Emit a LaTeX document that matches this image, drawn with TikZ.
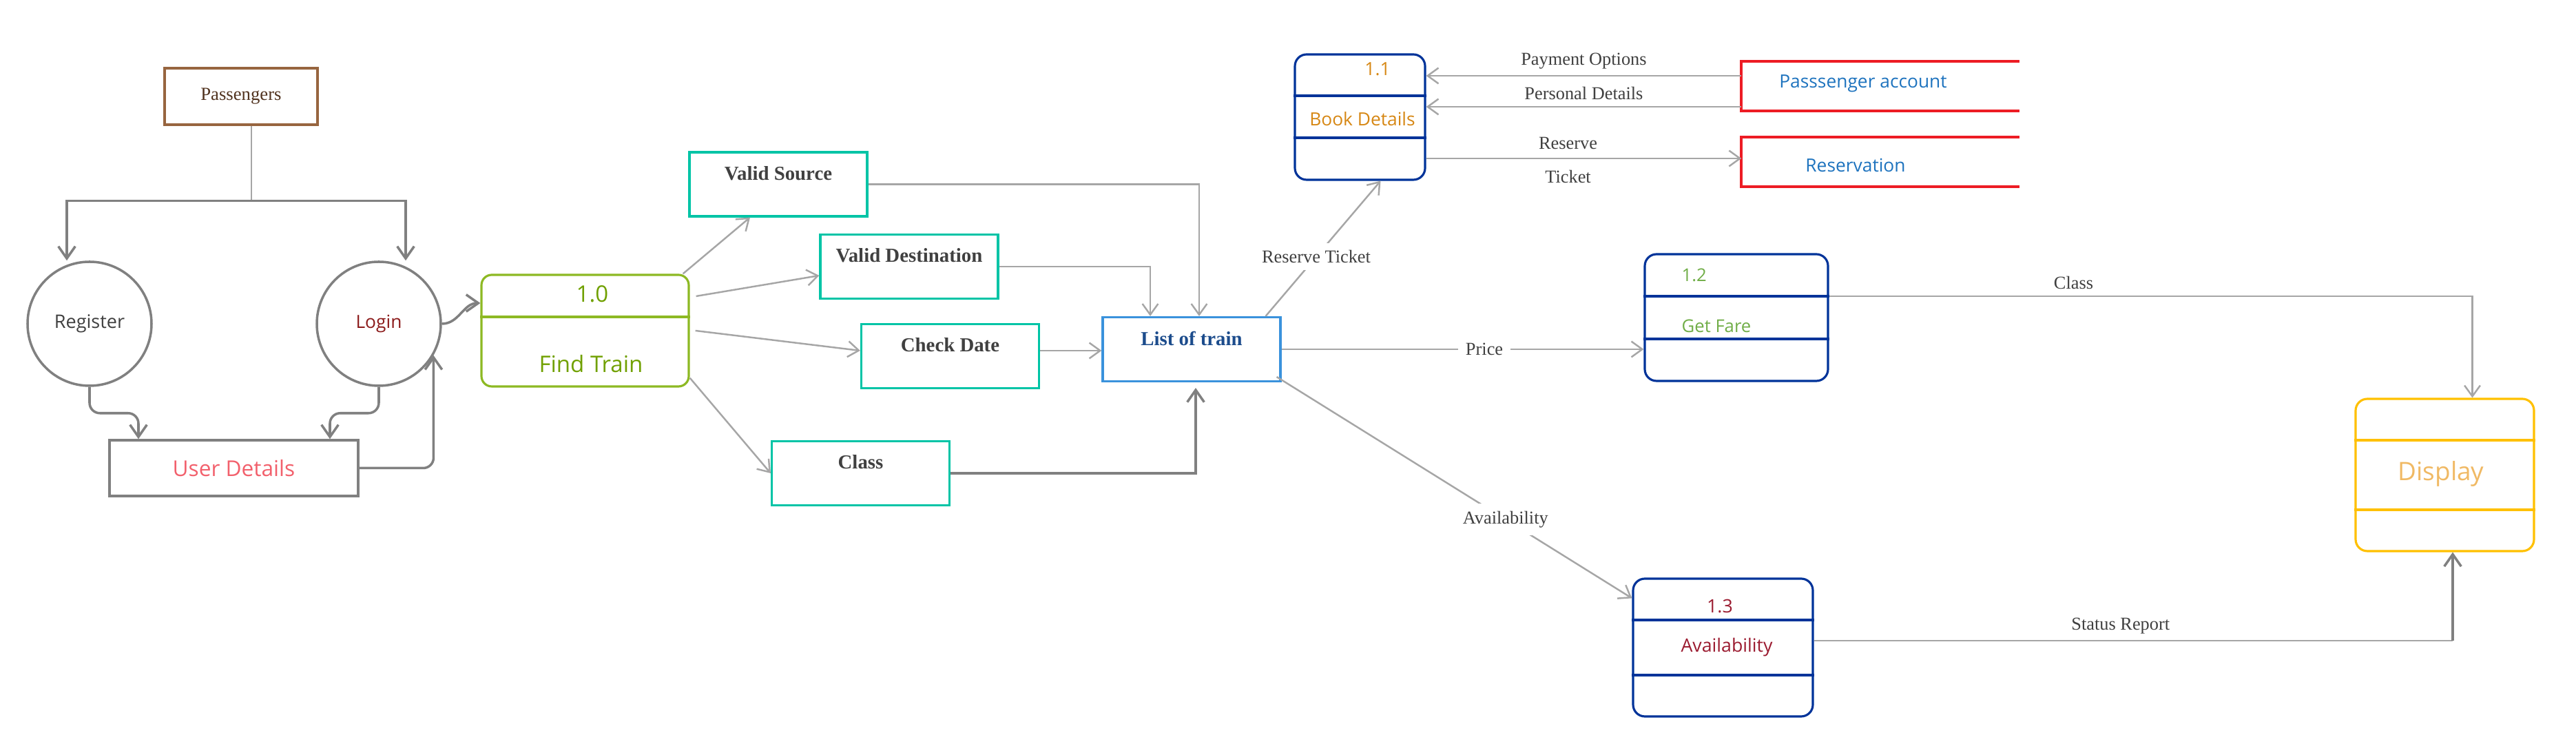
\documentclass[tikz,border=0pt]{standalone}
\usepackage{fontspec}
\setmainfont{Liberation Serif}
\newfontfamily\uifont{Open Sans}
\usepackage{xcolor}
\definecolor{dfgray}{RGB}{166,166,166}
\definecolor{dfdark}{RGB}{128,128,128}
\definecolor{dftext}{RGB}{64,64,64}
\definecolor{dfbrown}{RGB}{151,101,63}
\definecolor{dfpass}{RGB}{80,50,30}
\definecolor{dfteal}{RGB}{0,196,166}
\definecolor{dfblue}{RGB}{58,146,220}
\definecolor{dflistblue}{RGB}{28,76,140}
\definecolor{dfnavy}{RGB}{0,51,153}
\definecolor{dfred}{RGB}{237,28,36}
\definecolor{dfgold}{RGB}{255,192,0}
\definecolor{dflime}{RGB}{141,185,35}
\definecolor{dfgreen}{RGB}{112,160,0}
\definecolor{dffare}{RGB}{112,173,71}
\definecolor{dforange}{RGB}{214,135,20}
\definecolor{dfwine}{RGB}{155,27,48}
\definecolor{dfacct}{RGB}{30,115,190}
\definecolor{dfpink}{RGB}{242,96,108}
\definecolor{dflogin}{RGB}{139,26,26}
\definecolor{dfdisp}{RGB}{240,185,100}
\usepackage{tikz}
\usetikzlibrary{arrows.meta, positioning, calc}

\begin{document}
\begin{tikzpicture}[
  flow/.style={draw=dfgray, line width=0.7pt, -{Straight Barb[length=4.5pt,width=6.5pt]}},
  flowdark/.style={draw=dfdark, line width=1pt, -{Straight Barb[length=5pt,width=7pt]}},
  lbl/.style={font=\fontsize{7.5}{9}\selectfont, text=dftext, inner sep=1.5pt},
  lblgap/.style={fill=white, inner sep=3pt},
  ui/.style={font=\uifont\fontsize{#1}{12}\selectfont},
  tealbox/.style={draw=dfteal, line width=0.9pt, minimum width=2.58cm, minimum height=0.93cm,
    text depth=0.32cm, font=\fontsize{8.2}{10}\selectfont\bfseries, text=dftext},
  procbox/.style={draw=dfnavy, line width=0.9pt, rounded corners=0.17cm},
  store/.style={minimum width=4.02cm, minimum height=0.70cm},
  storeline/.style={dfred, line width=1.1pt}
]
  \useasboundingbox (0,0) rectangle (37.4,10.8);

  % --- Passengers, register and login ---
  \node[draw=dfbrown, line width=1pt, minimum width=2.22cm, minimum height=0.82cm,
    font=\fontsize{7.6}{9}\selectfont, text=dfpass] (pass) at (3.50,9.40) {Passengers};
  \node[circle, draw=dfdark, line width=1pt, minimum size=1.80cm, inner sep=0pt, ui=7.7, text=dftext] (reg) at (1.30,6.10) {Register};
  \node[circle, draw=dfdark, line width=1pt, minimum size=1.80cm, inner sep=0pt, ui=7.5, text=dflogin] (login) at (5.50,6.10) {Login};
  \node[draw=dfdark, line width=1pt, minimum width=3.61cm, minimum height=0.81cm, ui=9, text=dfpink] (ud) at (3.395,4.005) {User Details};

  \draw[dfgray, line width=0.7pt] ([xshift=0.15cm]pass.south) -- ++(0,-1.09) coordinate (fork);
  \draw[flowdark] (fork) -| ([xshift=-0.33cm]reg.north);
  \draw[flowdark] (fork) -| ([xshift=0.39cm]login.north);
  \draw[flowdark, rounded corners=0.15cm] (reg.south) -- ++(0,-0.38) -| ([xshift=-1.385cm]ud.north);
  \draw[flowdark, rounded corners=0.15cm] (login.south) -- ++(0,-0.38) -| ([xshift=1.395cm]ud.north);
  \draw[flowdark, rounded corners=0.15cm] (ud.east) -| (login.-30);

  % --- Process 1.0 Find Train ---
  \node[draw=dflime, line width=0.9pt, rounded corners=0.15cm, minimum width=3.01cm, minimum height=1.62cm] (ft) at (8.495,6.00) {};
  \draw[dflime, line width=0.9pt] (ft.west |- 0,6.20) -- (ft.east |- 0,6.20);
  \node[ui=9.4, text=dfgreen] (ftid) at (8.60,6.53) {1.0};
  \node[ui=9.4, text=dfgreen] (ftname) at (8.58,5.52) {Find Train};
  \draw[flowdark] (login.east) to[out=0, in=180] ([yshift=0.4cm]ft.west);

  % --- Checks ---
  \node[tealbox] (vs) at (11.30,8.125) {Valid Source};
  \node[tealbox] (vd) at (13.20,6.93) {Valid Destination};
  \node[tealbox] (cd) at (13.795,5.63) {Check Date};
  \node[tealbox] (cls) at (12.495,3.93) {Class};
  \node[tealbox, draw=dfblue, text=dflistblue] (lst) at (17.30,5.73) {List of train};

  \draw[flow] ([xshift=-0.1cm]ft.north east) -- ([xshift=-0.41cm]vs.south);
  \draw[flow] ([shift={(0.09,0.5)}]ft.east) -- ([yshift=-0.13cm]vd.west);
  \draw[flow] ([xshift=0.08cm]ft.east) -- ([yshift=0.08cm]cd.west);
  \draw[flow] ([yshift=0.14cm]ft.south east) -- (cls.west);

  \draw[flow] (vs.east) -| ([xshift=0.11cm]lst.north);
  \draw[flow] (vd.east) -| ([xshift=-0.6cm]lst.north);
  \draw[flow] ([yshift=0.08cm]cd.east) -- ([yshift=0.08cm]cd.east -| lst.west);
  \draw[flowdark] (cls.east) -| ([shift={(0.06,-0.08)}]lst.south);

  % --- Process 1.1 Book Details and stores ---
  \node[procbox, minimum width=1.89cm, minimum height=1.82cm] (p11) at (19.745,9.10) {};
  \draw[dfnavy, line width=0.9pt] (p11.west |- 0,9.41) -- (p11.east |- 0,9.41);
  \draw[dfnavy, line width=0.9pt] (p11.west |- 0,8.80) -- (p11.east |- 0,8.80);
  \node[ui=7.5, text=dforange] (p11id) at (20.00,9.80) {1.1};
  \node[ui=7.5, text=dforange] (p11name) at (19.78,9.07) {Book Details};

  \node[store] (pacc) at (27.30,9.55) {};
  \draw[storeline] (pacc.north east) -- (pacc.north west) -- (pacc.south west) -- (pacc.south east);
  \node[ui=7.5, text=dfacct] (pacctext) at (27.05,9.59) {Passsenger account};
  \node[store] (res) at (27.30,8.45) {};
  \draw[storeline] (res.north east) -- (res.north west) -- (res.south west) -- (res.south east);
  \node[ui=7.5, text=dfacct] (restext) at (26.94,8.40) {Reservation};

  \draw[flow] ([yshift=0.15cm]pacc.west) -- node[lbl, above=1pt] (lblpay) {Payment Options} ([yshift=0.15cm]pacc.west -| p11.east);
  \draw[flow] ([yshift=-0.30cm]pacc.west) -- node[lbl, above=1pt] (lblpers) {Personal Details} ([yshift=-0.30cm]pacc.west -| p11.east);
  \draw[flow] ([yshift=0.05cm]res.west -| p11.east) -- node[lbl, above=2pt, pos=0.45] (lblres) {Reserve} node[lbl, below=3pt, pos=0.45] (lbltkt) {Ticket} ([yshift=0.05cm]res.west);
  \draw[flow] ([xshift=-0.23cm]lst.north east) -- node[lbl, lblgap, pos=0.44] (lblrt) {Reserve Ticket} ([xshift=0.3cm]p11.south);

  % --- Process 1.2 Get Fare ---
  \node[procbox, minimum width=2.66cm, minimum height=1.84cm] (p12) at (25.21,6.19) {};
  \draw[dfnavy, line width=0.9pt] (p12.west |- 0,6.50) -- (p12.east |- 0,6.50);
  \draw[dfnavy, line width=0.9pt] (p12.west |- 0,5.88) -- (p12.east |- 0,5.88);
  \node[ui=7.3, text=dffare, anchor=west, inner sep=0pt] (p12id) at (24.41,6.81) {1.2};
  \node[ui=7.3, text=dffare, anchor=west, inner sep=0pt] (p12name) at (24.41,6.07) {Get Fare};
  \draw[flow] (lst.east) -- node[lbl, lblgap, pos=0.56] (lblprice) {Price} (lst.east -| p12.west);

  % --- Process 1.3 Availability ---
  \node[procbox, minimum width=2.61cm, minimum height=2.00cm] (p13) at (25.015,1.40) {};
  \draw[dfnavy, line width=0.9pt] (p13.west |- 0,1.80) -- (p13.east |- 0,1.80);
  \draw[dfnavy, line width=0.9pt] (p13.west |- 0,1.00) -- (p13.east |- 0,1.00);
  \node[ui=7.6, text=dfwine] (p13id) at (24.97,2.00) {1.3};
  \node[ui=7.6, text=dfwine] (p13name) at (25.07,1.40) {Availability};
  \draw[flow] ([shift={(-0.07,0.08)}]lst.south east) -- node[lbl, lblgap, pos=0.644] (lblavail) {Availability} ([yshift=-0.3cm]p13.north west);

  % --- Display ---
  \node[draw=dfgold, line width=0.9pt, rounded corners=0.17cm, minimum width=2.59cm, minimum height=2.21cm] (disp) at (35.495,3.905) {};
  \draw[dfgold, line width=0.9pt] (disp.west |- 0,4.41) -- (disp.east |- 0,4.41);
  \draw[dfgold, line width=0.9pt] (disp.west |- 0,3.40) -- (disp.east |- 0,3.40);
  \node[ui=10.5, text=dfdisp] (dispname) at (35.44,3.92) {Display};

  \draw[flow] ([yshift=0.31cm]p12.east) -| node[lbl, above=1pt, pos=0.19] (lblclass) {Class} ([xshift=0.4cm]disp.north);
  \draw[dfgray, line width=0.7pt] ([yshift=0.1cm]p13.east) -- node[lbl, above=1pt, pos=0.48] (lblstat) {Status Report} ([yshift=0.1cm, xshift=0.115cm]p13.east -| disp.south) coordinate (srturn);
  \draw[flowdark] (srturn) -- ([xshift=0.115cm]disp.south);
\end{tikzpicture}
\end{document}
